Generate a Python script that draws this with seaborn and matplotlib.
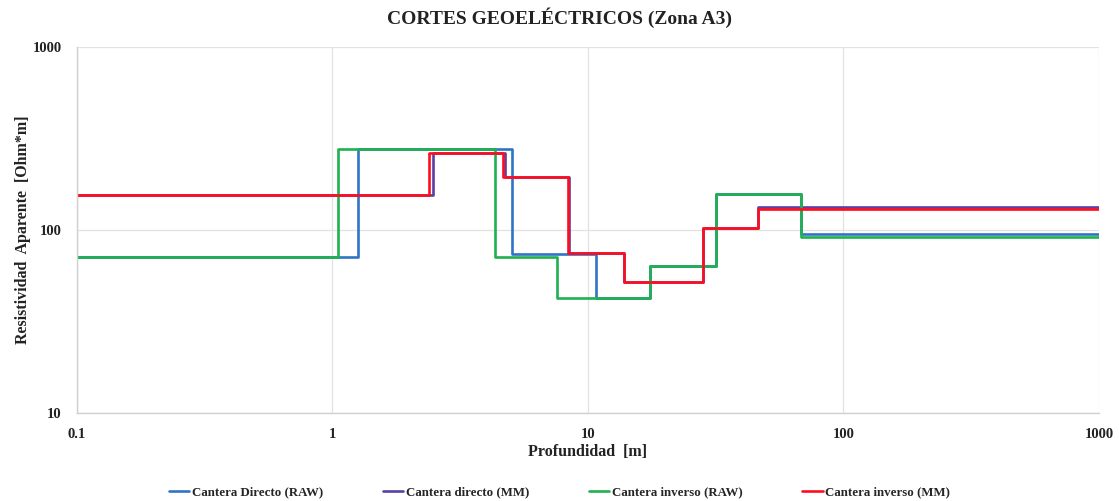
import matplotlib
matplotlib.use("Agg")
import matplotlib.pyplot as plt
from matplotlib.ticker import FixedLocator, FixedFormatter, NullLocator
import seaborn as sns
import pandas as pd

# Layer tops (m) and apparent resistivity (Ohm*m) for each sounding model
directo_raw_depth = [0.1, 1.26, 5.03, 10.8, 17.5, 31.7, 68.0]
directo_raw_res = [71.5, 277, 73.5, 42.4, 63.8, 158, 95]

directo_mm_depth = [0.1, 2.47, 4.73, 8.45, 13.9, 28.3, 46.4]
directo_mm_res = [155, 262, 194, 74.6, 52.2, 102, 133]

inverso_raw_depth = [0.1, 1.05, 4.33, 7.54, 17.5, 31.7, 68.0]
inverso_raw_res = [71.5, 277, 71.5, 42.4, 63.8, 158, 92]

inverso_mm_depth = [0.1, 2.39, 4.66, 8.37, 13.9, 28.3, 46.4]
inverso_mm_res = [155, 262, 194, 74.6, 52.2, 102, 129.7]

series_names = ["Cantera Directo (RAW)", "Cantera directo (MM)",
                "Cantera inverso (RAW)", "Cantera inverso (MM)"]
series_colors = ["#2e75c6", "#5b3fa5", "#1fb050", "#ff0d1f"]
max_depth = 1000

x_ticks = [0.1, 1, 10, 100, 1000]
x_tick_labels = ["0.1", "1", "10", "100", "1000"]
y_ticks = [10, 100, 1000]
y_tick_labels = ["10", "100", "1000"]

rows = []
for name, depths, res in zip(
        series_names,
        [directo_raw_depth, directo_mm_depth, inverso_raw_depth, inverso_mm_depth],
        [directo_raw_res, directo_mm_res, inverso_raw_res, inverso_mm_res]):
    for d, r in zip(depths, res):
        rows.append({"Profundidad": d, "Resistividad": r, "Serie": name})
    # extend the last layer to the end of the axis
    rows.append({"Profundidad": max_depth, "Resistividad": res[-1], "Serie": name})
df = pd.DataFrame(rows)

sns.set_theme(style="white")
plt.rcParams["font.family"] = ["Liberation Serif", "DejaVu Serif"]
plt.rcParams["font.weight"] = "bold"

fig = plt.figure(figsize=(11.19, 5.01), dpi=100)
ax = fig.add_axes([0.0688, 0.176, 0.9132, 0.730])

sns.lineplot(data=df, x="Profundidad", y="Resistividad", hue="Serie",
             hue_order=series_names, palette=series_colors,
             estimator=None, sort=False, drawstyle="steps-post",
             linewidth=1.9, ax=ax)

ax.set_xscale("log")
ax.set_yscale("log")
ax.set_xlim(0.1, 1000)
ax.set_ylim(10, 1000)

ax.xaxis.set_major_locator(FixedLocator(x_ticks))
ax.xaxis.set_major_formatter(FixedFormatter(x_tick_labels))
ax.xaxis.set_minor_locator(NullLocator())
ax.yaxis.set_major_locator(FixedLocator(y_ticks))
ax.yaxis.set_major_formatter(FixedFormatter(y_tick_labels))
ax.yaxis.set_minor_locator(NullLocator())

ax.grid(True, which="major", color="#e2e2e2", linewidth=0.9)
ax.set_axisbelow(True)
for side in ["top", "right"]:
    ax.spines[side].set_visible(False)
for side in ["left", "bottom"]:
    ax.spines[side].set_color("#d0d0d0")
    ax.spines[side].set_linewidth(1.0)

ax.tick_params(axis="x", length=0, labelsize=10.5, colors="#222222", pad=11)
ax.tick_params(axis="y", length=0, labelsize=10.5, colors="#222222", pad=11)
for lab in ax.get_xticklabels() + ax.get_yticklabels():
    lab.set_fontweight("bold")

ax.set_xlabel("Profundidad  [m]", fontsize=11.5, fontweight="bold", color="#222222", labelpad=2)
ax.set_ylabel("Resistividad  Aparente  [Ohm*m]", fontsize=11.5, fontweight="bold",
              color="#222222")
ax.yaxis.set_label_coords(-0.045, 0.5)
fig.suptitle("CORTES GEOELÉCTRICOS (Zona A3)", y=0.986, fontsize=14,
             fontweight="bold", color="#222222")

handles, labels = ax.get_legend_handles_labels()
ax.legend_.remove()
fig.legend(handles, labels, loc="lower center", bbox_to_anchor=(0.5, -0.018),
           ncol=4, frameon=False, handlelength=1.6,
           handletextpad=0.2, columnspacing=4.6,
           prop={"weight": "bold", "size": 9.3})

fig.savefig("out.png", dpi=100)
